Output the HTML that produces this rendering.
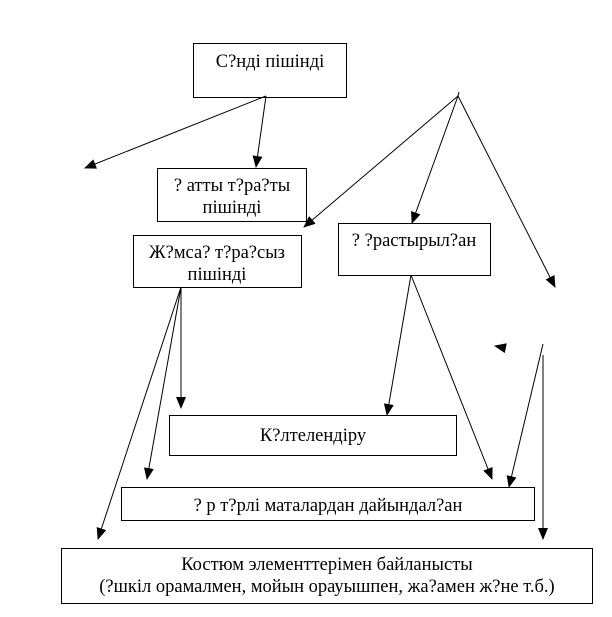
<!DOCTYPE html>
<html><head><meta charset="utf-8"><style>
html,body{margin:0;padding:0;background:#fff;}
svg text{font-family:"Liberation Serif",serif;font-size:18.5px;fill:#000;}
</style></head><body>
<svg width="612" height="612" viewBox="0 0 612 612" xmlns="http://www.w3.org/2000/svg">
<defs><marker id="a" markerWidth="12" markerHeight="10" refX="11" refY="5" orient="auto" markerUnits="userSpaceOnUse"><path d="M0,0 L12,5 L0,10 z" fill="#000"/></marker></defs>
<g fill="#fff" stroke="#000" stroke-width="1">
<rect x="193.5" y="43.5" width="153" height="54"/>
<rect x="157.5" y="168.5" width="149" height="53"/>
<rect x="133.5" y="235.5" width="168" height="52"/>
<rect x="338.5" y="223.5" width="152" height="52"/>
<rect x="169.5" y="415.5" width="287" height="40"/>
<rect x="121.5" y="487.5" width="413" height="33"/>
<rect x="61.5" y="548.5" width="531" height="55"/>
</g>
<g stroke="#000" stroke-width="1" fill="none" marker-end="url(#a)">
<line x1="266" y1="96" x2="85" y2="168"/>
<line x1="266" y1="96" x2="256" y2="167"/>
<line x1="458" y1="96" x2="304" y2="227"/>
<line x1="458" y1="96" x2="412" y2="223"/>
<line x1="458" y1="96" x2="555" y2="287"/>
<line x1="181" y1="287" x2="181" y2="408"/>
<line x1="181" y1="287" x2="147" y2="479"/>
<line x1="181" y1="287" x2="98" y2="539"/>
<line x1="411" y1="275" x2="387" y2="415"/>
<line x1="411" y1="275" x2="492" y2="479"/>
<line x1="543" y1="344" x2="509" y2="487"/>
<line x1="543" y1="355" x2="543" y2="539"/>
<line x1="505" y1="348" x2="495" y2="346"/>
</g>
<line x1="458" y1="96" x2="459" y2="92" stroke="#000"/>
<text x="270" y="67" text-anchor="middle">С?нді пішінді</text>
<text x="232" y="191" text-anchor="middle">? атты т?ра?ты</text>
<text x="232" y="213" text-anchor="middle">пішінді</text>
<text x="217" y="258" text-anchor="middle">Ж?мса? т?ра?сыз</text>
<text x="217" y="280" text-anchor="middle">пішінді</text>
<text x="414" y="246" text-anchor="middle">? ?растырыл?ан</text>
<text x="313" y="441" text-anchor="middle">К?лтелендіру</text>
<text x="328" y="511" text-anchor="middle">? р т?рлі маталардан дайындал?ан</text>
<text x="327" y="570" text-anchor="middle">Костюм элементтерімен байланысты</text>
<text x="327" y="592" text-anchor="middle">(?шкіл орамалмен, мойын орауышпен, жа?амен ж?не т.б.)</text>
</svg>
</body></html>
